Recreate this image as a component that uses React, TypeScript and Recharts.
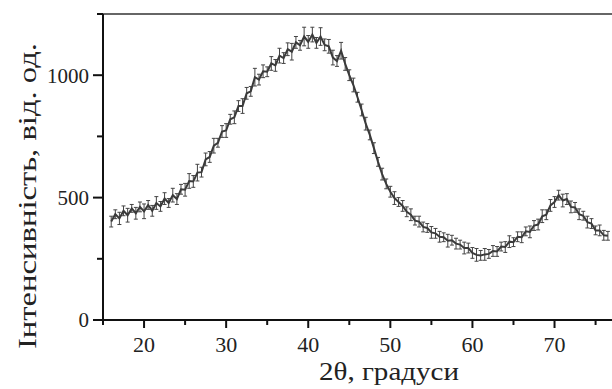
import React from 'react'
import { LineChart, Line, XAxis, YAxis, ReferenceLine, ErrorBar } from 'recharts'

// 2θ positions (degrees)
const twoTheta = [
  16, 16.5, 17, 17.5, 18, 18.5, 19, 19.5, 20, 20.5, 21, 21.5, 22, 22.5, 23, 23.5, 24, 24.5, 25, 25.5,
  26, 26.5, 27, 27.5, 28, 28.5, 29, 29.5, 30, 30.5, 31, 31.5, 32, 32.5, 33, 33.5, 34, 34.5, 35, 35.5,
  36, 36.5, 37, 37.5, 38, 38.5, 39, 39.5, 40, 40.5, 41, 41.5, 42, 42.5, 43, 43.5, 44, 44.5, 45, 45.5,
  46, 46.5, 47, 47.5, 48, 48.5, 49, 49.5, 50, 50.5, 51, 51.5, 52, 52.5, 53, 53.5, 54, 54.5, 55, 55.5,
  56, 56.5, 57, 57.5, 58, 58.5, 59, 59.5, 60, 60.5, 61, 61.5, 62, 62.5, 63, 63.5, 64, 64.5, 65, 65.5,
  66, 66.5, 67, 67.5, 68, 68.5, 69, 69.5, 70, 70.5, 71, 71.5, 72, 72.5, 73, 73.5, 74, 74.5, 75, 75.5,
  76, 76.5,
]

// intensity, arb. units
const intensity = [
  402, 432, 415, 446, 428, 456, 436, 462, 444, 470, 446, 478, 464, 496, 478, 510, 494, 534, 532, 568,
  566, 602, 604, 656, 666, 712, 724, 770, 774, 820, 828, 874, 874, 926, 934, 992, 982, 1016, 1014, 1048,
  1040, 1080, 1070, 1106, 1096, 1134, 1122, 1158, 1136, 1166, 1132, 1158, 1124, 1118, 1072, 1058, 1100, 1046, 1000, 960,
  910, 858, 802, 756, 702, 646, 596, 556, 524, 498, 482, 466, 442, 430, 406, 402, 380, 376, 358, 354,
  340, 338, 324, 326, 312, 308, 294, 294, 274, 266, 264, 268, 270, 282, 280, 300, 298, 320, 318, 340,
  338, 362, 360, 386, 390, 424, 430, 468, 482, 510, 488, 494, 462, 460, 432, 426, 400, 394, 366, 366,
  346, 344,
]

// small vertical error bars
const errors = [
  22, 18, 25, 20, 28, 16, 24, 20, 30, 18, 22, 26, 20, 24, 18, 28, 22, 20, 26, 30,
  24, 34, 20, 26, 22, 30, 18, 24, 28, 20, 26, 22, 30, 24, 20, 36, 22, 26, 20, 28,
  24, 30, 22, 26, 34, 24, 20, 38, 26, 30, 22, 36, 24, 28, 30, 22, 34, 26, 22, 28,
  20, 24, 26, 20, 22, 18, 24, 20, 22, 26, 18, 22, 20, 24, 18, 22, 20, 18, 24, 20,
  22, 18, 26, 20, 22, 18, 24, 20, 22, 26, 20, 24, 18, 22, 20, 18, 22, 24, 18, 20,
  22, 18, 24, 20, 22, 26, 20, 24, 22, 20, 26, 22, 24, 20, 22, 18, 24, 20, 18, 22,
  20, 18,
]

const xTicks = [15, 20, 25, 30, 35, 40, 45, 50, 55, 60, 65, 70, 75]
const yTicks = [0, 250, 500, 750, 1000, 1250]
const xLabelled = [20, 30, 40, 50, 60, 70]
const yLabelled = [0, 500, 1000]

const data = twoTheta.map((t, i) => ({ t, v: intensity[i], err: errors[i] }))

const SERIF = 'Liberation Serif'

function XTick(props: any) {
  const { x, y, payload } = props
  const major = xLabelled.includes(payload.value)
  return (
    <g>
      <line x1={x} y1={y} x2={x} y2={y + (major ? 8 : 5)} stroke="#111" strokeWidth={2} />
      {major && (
        <text x={x} y={y + 32} textAnchor="middle" fontFamily={SERIF} fontSize={22} fill="#222">
          {payload.value}
        </text>
      )}
    </g>
  )
}

function YTick(props: any) {
  const { x, y, payload } = props
  const major = yLabelled.includes(payload.value)
  return (
    <g>
      <line x1={x} y1={y} x2={x - (major ? 10 : 6)} y2={y} stroke="#111" strokeWidth={2} />
      {major && (
        <text x={x - 14} y={y} dy="0.35em" textAnchor="end" fontFamily={SERIF} fontSize={21} fill="#222">
          {payload.value}
        </text>
      )}
    </g>
  )
}

export default function App() {
  return (
    <div style={{ position: 'absolute', left: 0, top: 0, width: 612, height: 389, background: '#fff', overflow: 'hidden', fontFamily: SERIF }}>
      <LineChart width={612} height={389} data={data} margin={{ top: 14, right: 0, left: 0, bottom: 0 }}>
        <XAxis
          dataKey="t"
          type="number"
          domain={[15, 77]}
          ticks={xTicks}
          tick={<XTick />}
          tickLine={false}
          tickSize={0}
          tickMargin={0}
          height={69}
          axisLine={{ stroke: '#111', strokeWidth: 2 }}
          allowDataOverflow
        />
        <YAxis
          type="number"
          domain={[0, 1250]}
          ticks={yTicks}
          tick={<YTick />}
          tickLine={false}
          tickSize={0}
          tickMargin={0}
          width={103}
          axisLine={{ stroke: '#111', strokeWidth: 2 }}
        />
        <ReferenceLine y={1250} stroke="#666" strokeWidth={2} />
        <Line
          dataKey="v"
          type="linear"
          stroke="#3a3a3a"
          strokeWidth={2}
          dot={false}
          isAnimationActive={false}
        >
          <ErrorBar dataKey="err" width={2} stroke="#444" strokeWidth={1} direction="y" isAnimationActive={false} />
        </Line>
        <text
          x={389}
          y={380}
          textAnchor="middle"
          fontFamily={SERIF}
          fontSize={26}
          fill="#222"
          textLength={140}
          lengthAdjust="spacingAndGlyphs"
        >
          2θ, градуси
        </text>
        <text
          transform="translate(36, 196) rotate(-90)"
          textAnchor="middle"
          fontFamily={SERIF}
          fontSize={26}
          fill="#222"
          textLength={306}
          lengthAdjust="spacingAndGlyphs"
        >
          Інтенсивність, від. од.
        </text>
      </LineChart>
    </div>
  )
}
